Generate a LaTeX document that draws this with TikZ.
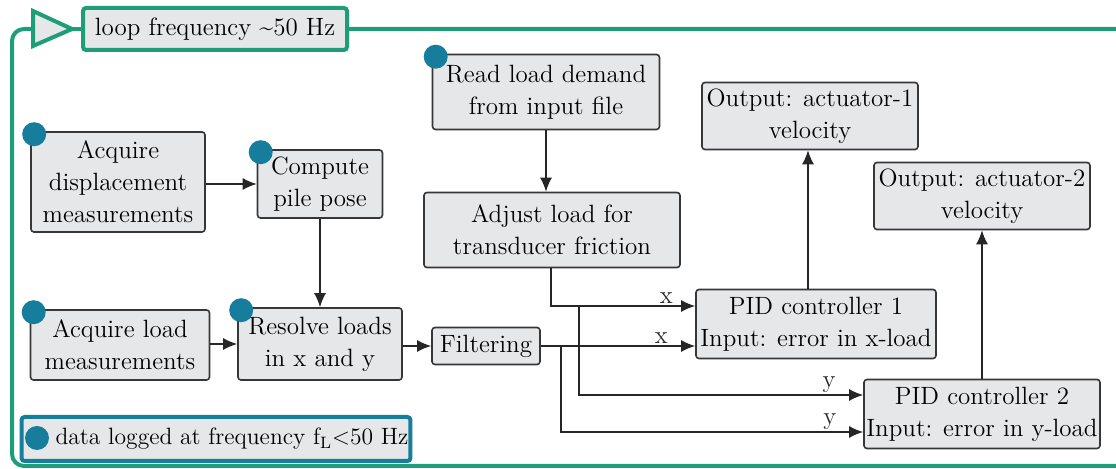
\documentclass[tikz,border=0pt]{standalone}
\usepackage{tikz}
\usetikzlibrary{arrows.meta}
\definecolor{boucle}{RGB}{30,158,120}
\definecolor{pastille}{RGB}{22,126,156}
\definecolor{fond}{RGB}{230,231,233}
\definecolor{bord}{RGB}{55,55,55}
\tikzset{
  boite/.style={draw=bord, fill=fond, line width=0.8pt, rounded corners=1.5pt, align=center, inner sep=1pt},
  fleche/.style={-{Latex[length=7pt,width=6pt]}, line width=0.75pt, black!85},
  etiq/.style={inner sep=1pt, anchor=south},
}
\newcommand{\marque}[1]{\fill[pastille] ([shift={(4,3)}]#1.north west) circle (6pt);}

\begin{document}
\begin{tikzpicture}[x=0.5pt, y=-0.5pt, font=\fontsize{12.5}{16}\selectfont]
        \useasboundingbox (0,0) rectangle (1116,469);

        % Cadre de la boucle
        \draw[boucle, line width=2pt, rounded corners=6pt] (33,29) -- (12,29) -- (12,466) -- (1130,466) -- (1130,29) -- (347,29);
        \draw[boucle, line width=2pt, fill=fond] (33,11) -- (72,29) -- (33,46) -- cycle;
        \draw[boucle, line width=2pt] (72,29) -- (83,29);
        \node[boite, draw=boucle, line width=2pt, minimum width=132pt, minimum height=21pt] (loop) at (215,29) {loop frequency \textasciitilde 50 Hz};

        % Acquisition et pose
        \node[boite, minimum width=87pt, minimum height=50pt] (disp) at (118,182) {Acquire\\displacement\\measurements};
        \node[boite, minimum width=62.5pt, minimum height=34pt] (pose) at (320,184) {Compute\\pile pose};
        \node[boite, minimum width=89.5pt, minimum height=35pt] (loadm) at (120,345) {Acquire load\\measurements};
        \node[boite, minimum width=82pt, minimum height=36pt] (resolve) at (320,344) {Resolve loads\\in x and y};
        \node[boite, minimum width=54pt, minimum height=18.5pt] (filt) at (486,346) {Filtering};

        % Consigne
        \node[boite, minimum width=113.5pt, minimum height=37.5pt] (readd) at (546,92) {Read load demand\\from input file};
        \node[boite, minimum width=128pt, minimum height=37.5pt] (adjust) at (552,230) {Adjust load for\\transducer friction};

        % Regulateurs et sorties
        \node[boite, minimum width=108pt, minimum height=33.5pt] (outa) at (810,116) {Output: actuator-1\\velocity};
        \node[boite, minimum width=108pt, minimum height=33.5pt] (outb) at (982,196) {Output: actuator-2\\velocity};
        \node[boite, minimum width=120pt, minimum height=34.5pt] (pida) at (816,324) {PID controller 1\\Input: error in x-load};
        \node[boite, minimum width=118pt, minimum height=34.5pt] (pidb) at (982,414) {PID controller 2\\Input: error in y-load};

        % Pastilles
        \marque{disp}
        \marque{pose}
        \marque{loadm}
        \marque{resolve}
        \marque{readd}

        % Fleches
        \draw[fleche] (disp.east |- pose.west) -- (pose.west);
        \draw[fleche] (pose) -- (resolve);
        \draw[fleche] (loadm.east |- resolve.west) -- (resolve.west);
        \draw[fleche] (resolve.east |- filt.west) -- (filt.west);
        \draw[fleche] (readd.south) -- (readd.south |- adjust.north);
        \draw[fleche] ([xshift=-4pt]pida.north) -- ([xshift=-4pt]pida.north |- outa.south);
        \draw[fleche] (pidb) -- (outb);

        \coordinate (ax) at (551,306);
        \coordinate (ay) at (579,306);
        \coordinate (fy) at (561,346);
        \coordinate (by) at (579,395);
        \coordinate (bf) at (561,432);
        \draw[fleche] (adjust.south -| ax) -- (ax) -- (ax -| pida.west) node[etiq, pos=0.8] {x};
        \draw[fleche] (filt.east) -- (filt.east -| pida.west) node[etiq, pos=0.78] {x};
        \draw[fleche] (ay) -- (by) -- (by -| pidb.west) node[etiq, pos=0.88] {y};
        \draw[fleche] (fy) -- (bf) -- (bf -| pidb.west) node[etiq, pos=0.89] {y};

        % Legende
        \node[boite, draw=pastille, line width=2pt, minimum width=194pt, minimum height=22pt, font=\fontsize{11.8}{14}\selectfont] (legend) at (216,439) {\hspace*{16pt}data logged at frequency f\textsubscript{L}<50 Hz};
        \fill[pastille] (37,438) circle (6pt);
    \end{tikzpicture}
\end{document}
